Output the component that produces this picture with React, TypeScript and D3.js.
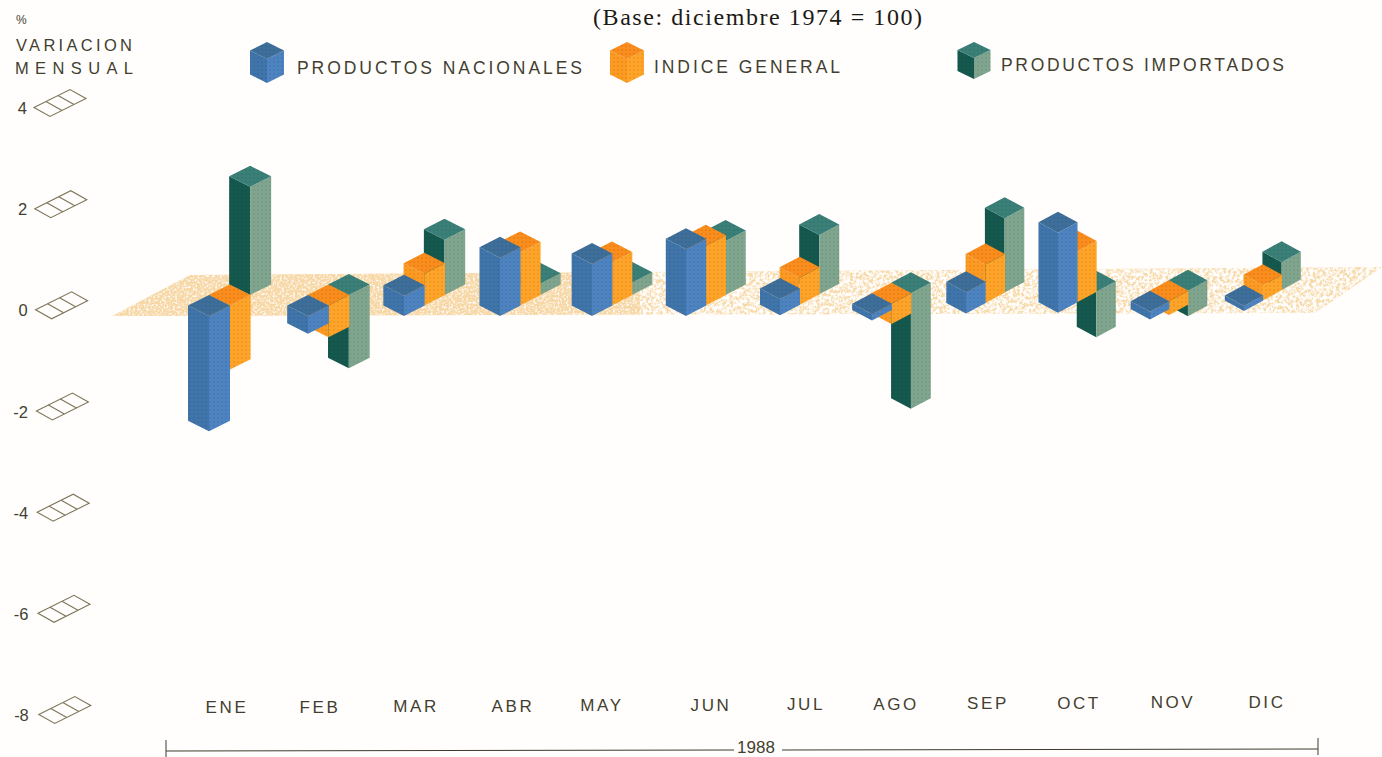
import React from "react";
import * as d3 from "d3";

const months = ["ENE","FEB","MAR","ABR","MAY","JUN","JUL","AGO","SEP","OCT","NOV","DIC"];
const nacionales = [-2.28,-0.35,0.4,1.15,1.03,1.32,0.32,-0.12,0.42,1.58,-0.15,0.1];
const general = [-1.27,-0.63,0.63,1.05,0.85,1.18,0.53,-0.4,0.76,1.0,-0.27,0.3];
const importados = [2.14,-1.45,1.09,0.22,0.24,1.07,1.17,-2.28,1.47,-0.9,-0.5,0.55];
const yTicks = [4,2,0,-2,-4,-6,-8];
const yTickLabels = ["4","2","0","-2","-4","-6","-8"];

const y = d3.scaleLinear().domain([4,-8]).range([107,714]);
const xBlue = d3.scaleOrdinal<string,number>().domain(months).range([209,308,404,500,592,686,780,872,966,1058,1150,1244]);
const xLabel = d3.scaleOrdinal<string,number>().domain(months).range([227,320,416,513,602,711,806,896,988,1079,1173,1267]);
const idx = d3.scaleLinear().domain([0,11]);
const halfW = idx.copy().range([21,19.2]);
const baseY = d3.scaleLinear().domain([0,5,11]).range([316,316,311]);
const labelY = idx.copy().range([713,708]);

const ink = "#433e30";
const palette = {
  blue: {left:"#3f75aa", right:"#4c83c0", top:"#3e6f9b"},
  orange: {left:"#fd9a22", right:"#ffa428", top:"#fa8d1c"},
  green: {left:"#15594e", right:"#7fa58e", top:"#3a7f78"},
};
type Pal = typeof palette.blue;
const line = d3.line();
const P = (pts:[number,number][]) => line(pts)+"Z";

function Prism({cx,topFront,botFront,hw,hh,pal}:{cx:number,topFront:number,botFront:number,hw:number,hh:number,pal:Pal}) {
  const left = P([[cx-hw,topFront-hh],[cx,topFront],[cx,botFront],[cx-hw,botFront-hh]]);
  const right = P([[cx+hw,topFront-hh],[cx,topFront],[cx,botFront],[cx+hw,botFront-hh]]);
  const cap = P([[cx-hw,topFront-hh],[cx,topFront-2*hh],[cx+hw,topFront-hh],[cx,topFront]]);
  return <g>
    <path d={left} fill={pal.left}/>
    <path d={right} fill={pal.right}/>
    <path d={cap} fill={pal.top}/>
    <path d={left} fill="url(#dots)"/>
    <path d={right} fill="url(#dots)"/>
    <path d={cap} fill="url(#dots)"/>
  </g>;
}

function Bar({i,s,v,pal}:{i:number,s:number,v:number,pal:Pal}) {
  const hw = halfW(i), hh = 10.5;
  const cx = xBlue(months[i]) + s*hw*0.98;
  const base = baseY(i) - s*hh;
  const h = y(0)-y(v);
  const top = v>0 ? base-h : base;
  const bot = v>0 ? base : base-h;
  return <Prism cx={cx} topFront={top} botFront={bot} hw={hw} hh={hh} pal={pal}/>;
}

function Gauge({t,i}:{t:number,i:number}) {
  const x0 = 34 + i*0.8, y0 = y(t)+0.5;
  const ax = 36/3, ay = -18/3, bx = 16, by = 9;
  const pt = (a:number,b:number):[number,number] => [x0+ax*a+bx*b, y0+ay*a+by*b];
  return <g fill="none" stroke="#7d7458" strokeWidth={1.1}>
    <path d={P([pt(0,0),pt(3,0),pt(3,1),pt(0,1)])}/>
    <path d={line([pt(1,0),pt(1,1)])!}/>
    <path d={line([pt(2,0),pt(2,1)])!}/>
  </g>;
}

const sans = "'Liberation Sans', Arial, sans-serif";
function T({x,y:yy,w,size=15,anchor="start",spacing,children}:{x:number,y:number,w?:number,size?:number,anchor?:string,spacing?:number,children:any}) {
  return <text x={x} y={yy} fontFamily={sans} fontSize={size} fill={ink} textAnchor={anchor as any}
    letterSpacing={spacing}
    {...(w?{textLength:w,lengthAdjust:"spacing"}:{})}>{children}</text>;
}

export default function App() {
  return <svg width={1382} height={757} viewBox="0 0 1382 757" style={{position:"absolute",left:0,top:0,display:"block",background:"#fffefd"}}>
    <defs>
      <filter id="speck" x="0" y="0" width="100%" height="100%">
        <feTurbulence type="fractalNoise" baseFrequency="0.45" numOctaves="2" seed="4" result="n"/>
        <feColorMatrix in="n" type="matrix" values="0 0 0 0 1  0 0 0 0 1  0 0 0 0 1  3 0 0 0 -1.4" result="w"/>
        <feComposite in="w" in2="SourceAlpha" operator="in" result="wc"/>
        <feMerge><feMergeNode in="SourceGraphic"/><feMergeNode in="wc"/></feMerge>
      </filter>
      <filter id="speckRight" x="0" y="0" width="100%" height="100%">
        <feTurbulence type="fractalNoise" baseFrequency="0.3" numOctaves="2" seed="9" result="n"/>
        <feColorMatrix in="n" type="matrix" values="0 0 0 0 1  0 0 0 0 1  0 0 0 0 1  4 0 0 0 -1.55" result="w"/>
        <feComposite in="w" in2="SourceAlpha" operator="in"/>
      </filter>
      <pattern id="dots" width="4" height="4" patternUnits="userSpaceOnUse">
        <circle cx="2" cy="2" r="0.9" fill="#000" opacity="0.09"/>
      </pattern>
    </defs>

    <text x={593} y={25} fontFamily="'Liberation Serif', serif" fontSize={24} fill="#1c1a16" textLength={329} lengthAdjust="spacing">(Base: diciembre 1974 = 100)</text>

    <T x={16} y={24} size={12}>%</T>
    <T x={16} y={51} w={116} size={16.5}>VARIACION</T>
    <T x={15} y={74} w={118} size={16.5}>MENSUAL</T>

    <Prism cx={267} topFront={59} botFront={83} hw={17} hh={8.5} pal={palette.blue}/>
    <T x={297} y={74} w={285} size={17.5}>PRODUCTOS NACIONALES</T>
    <Prism cx={627} topFront={59} botFront={83} hw={17} hh={8.5} pal={palette.orange}/>
    <T x={654} y={73} w={186} size={17.5}>INDICE GENERAL</T>
    <Prism cx={974} topFront={58} botFront={79} hw={16.5} hh={8} pal={palette.green}/>
    <T x={1001} y={71} w={283} size={17.5}>PRODUCTOS IMPORTADOS</T>

    {yTicks.map((t,i)=><g key={t}>
      <Gauge t={t} i={i}/>
      <T x={27+i*0.3} y={y(t)+7} size={16.5} anchor="end">{yTickLabels[i]}</T>
    </g>)}

    <path d={P([[112,316],[190,275],[1382,267],[1315,313]])} fill="#f7d8a4" filter="url(#speck)"/>
    <path d={P([[640,272],[1382,267],[1315,313],[640,316]])} fill="#fffefc" filter="url(#speckRight)"/>

    {months.map((m,i)=><g key={m}>
      <Bar i={i} s={2} v={importados[i]} pal={palette.green}/>
      <Bar i={i} s={1} v={general[i]} pal={palette.orange}/>
      <Bar i={i} s={0} v={nacionales[i]} pal={palette.blue}/>
    </g>)}

    {months.map((m,i)=><T key={m} x={xLabel(m)} y={labelY(i)} size={17} anchor="middle" spacing={2.6}>{m}</T>)}

    <g stroke="#3f3a2c" strokeWidth={1} fill="none">
      <path d={line([[166,751],[734,750]])!}/>
      <path d={line([[782,750],[1318,749]])!}/>
      <path d={line([[166,740],[166,757]])!}/>
      <path d={line([[1318,738],[1318,755]])!}/>
    </g>
    <T x={756} y={753} size={17} anchor="middle">1988</T>
  </svg>;
}
